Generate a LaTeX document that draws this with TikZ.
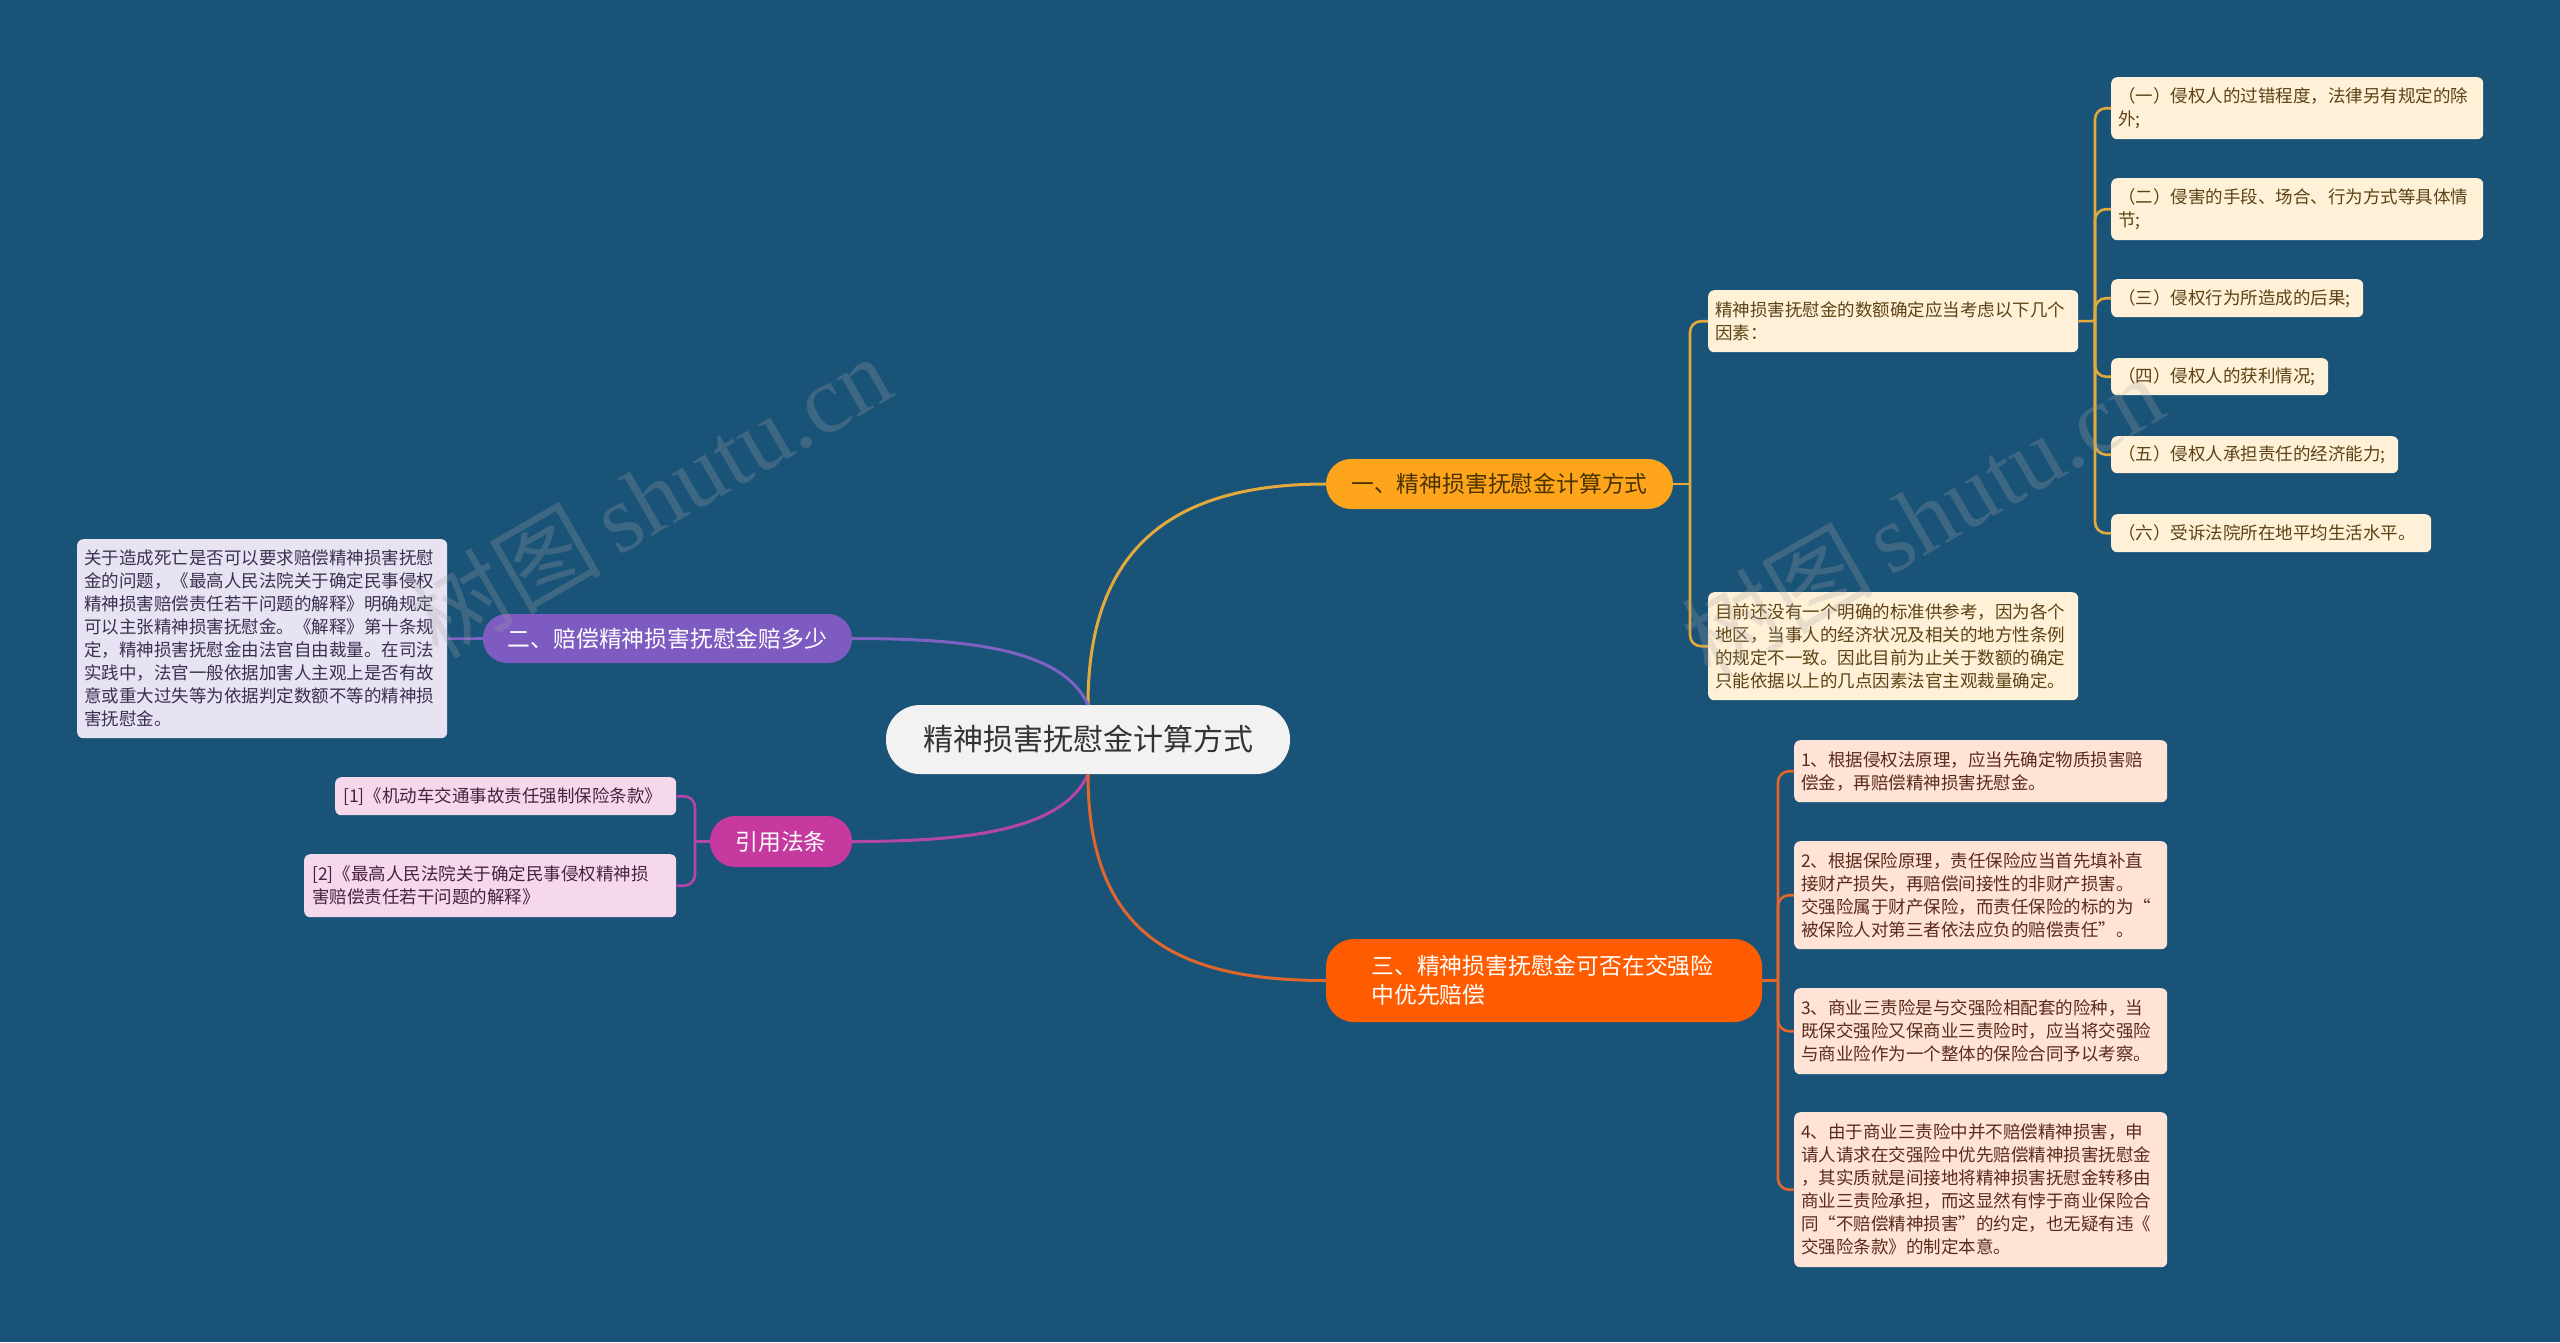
\documentclass[tikz,border=0pt]{standalone}
\usepackage{fontspec}
\setmainfont{Noto Sans CJK SC}
\newfontfamily\wmlatin{Liberation Serif}
\definecolor{bg}{HTML}{1A5378}
\definecolor{ctrfill}{HTML}{F2F2F2}
\definecolor{ctrtext}{HTML}{333333}
\definecolor{yfill}{HTML}{FFA51C}
\definecolor{ytext}{HTML}{4A3300}
\definecolor{yline}{HTML}{E2AA3C}
\definecolor{yleaf}{HTML}{FFF1D8}
\definecolor{yleaftext}{HTML}{5C4214}
\definecolor{ofill}{HTML}{FF5C00}
\definecolor{oline}{HTML}{E0662C}
\definecolor{oleaf}{HTML}{FFE3D7}
\definecolor{oleaftext}{HTML}{5A2A1A}
\definecolor{pfill}{HTML}{7E5BC1}
\definecolor{pline}{HTML}{7C62C2}
\definecolor{pleaf}{HTML}{E7E3F3}
\definecolor{pleaftext}{HTML}{3A3050}
\definecolor{mfill}{HTML}{C63AA0}
\definecolor{mline}{HTML}{B446A8}
\definecolor{mleaf}{HTML}{F5D8EC}
\definecolor{mleaftext}{HTML}{4A2040}
\tikzset{
  leafbox/.style={rounded corners=6pt, align=left, inner xsep=7pt, inner ysep=0pt,
    anchor=north west, font=\fontsize{17.5}{23}\selectfont},
  yleafbox/.style={leafbox, fill=yleaf, text=yleaftext},
  oleafbox/.style={leafbox, fill=oleaf, text=oleaftext},
  pleafbox/.style={leafbox, fill=pleaf, text=pleaftext},
  mleafbox/.style={leafbox, fill=mleaf, text=mleaftext},
  branchbox/.style={inner sep=0pt, font=\fontsize{22.8}{29}\selectfont},
  mainlink/.style={line width=3pt},
  leaflink/.style={line width=2.6pt, rounded corners=11pt},
  wm/.style={text=gray!70!white, opacity=0.25, font=\fontsize{96}{106}\selectfont, rotate=30}
}
\begin{document}
\begin{tikzpicture}[x=1pt,y=-1pt]
\useasboundingbox[fill=bg] (0,0) rectangle (2560,1342);

% central
\node[fill=ctrfill, text=ctrtext, rounded corners=34pt, minimum width=404pt, minimum height=69pt,
  inner sep=0pt, font=\fontsize{30}{36}\selectfont] (c) at (1088,739.5) {精神损害抚慰金计算方式};

% branches
\node[branchbox, fill=yfill, text=ytext, rounded corners=25pt, minimum width=347pt, minimum height=50pt]
  (b1) at (1499.5,484) {一、精神损害抚慰金计算方式};
\node[branchbox, fill=ofill, text=white, rounded corners=28pt, minimum height=83pt,
  text width=345pt, align=left, inner xsep=45.5pt, inner ysep=0pt]
  (b3) at (1544,980.5) {三、精神损害抚慰金可否在交强险\\中优先赔偿};
\node[branchbox, fill=pfill, text=white, rounded corners=24pt, minimum width=369pt, minimum height=49pt]
  (b2) at (667.5,638.5) {二、赔偿精神损害抚慰金赔多少};
\node[branchbox, fill=mfill, text=white, rounded corners=25pt, minimum width=142pt, minimum height=51pt]
  (b4) at (781,841.5) {引用法条};

% left leaf
\node[pleafbox, text width=356pt, minimum height=199pt] (l2) at (77,539) {关于造成死亡是否可以要求赔偿精神损害抚慰\\
金的问题，《最高人民法院关于确定民事侵权\\
精神损害赔偿责任若干问题的解释》明确规定\\
可以主张精神损害抚慰金。《解释》第十条规\\
定，精神损害抚慰金由法官自由裁量。在司法\\
实践中，法官一般依据加害人主观上是否有故\\
意或重大过失等为依据判定数额不等的精神损\\
害抚慰金。};

% references
\node[mleafbox, text width=325pt, minimum height=38pt, inner xsep=8pt] (r1) at (335,777) {[1]《机动车交通事故责任强制保险条款》};
\node[mleafbox, text width=356pt, minimum height=63pt, inner xsep=8pt] (r2) at (304,854) {[2]《最高人民法院关于确定民事侵权精神损\\害赔偿责任若干问题的解释》};

% branch 1 children
\node[yleafbox, text width=356pt, minimum height=62pt] (c11) at (1708,290) {精神损害抚慰金的数额确定应当考虑以下几个\\因素：};
\node[yleafbox, text width=356pt, minimum height=108pt] (c12) at (1708,592) {目前还没有一个明确的标准供参考，因为各个\\
地区，当事人的经济状况及相关的地方性条例\\
的规定不一致。因此目前为止关于数额的确定\\
只能依据以上的几点因素法官主观裁量确定。};

% grandchildren
\node[yleafbox, text width=358pt, minimum height=62pt] (g1) at (2111,77) {（一）侵权人的过错程度，法律另有规定的除\\外;};
\node[yleafbox, text width=358pt, minimum height=62pt] (g2) at (2111,178) {（二）侵害的手段、场合、行为方式等具体情\\节;};
\node[yleafbox, text width=238pt, minimum height=38pt] (g3) at (2111,279) {（三）侵权行为所造成的后果;};
\node[yleafbox, text width=203pt, minimum height=37pt] (g4) at (2111,358) {（四）侵权人的获利情况;};
\node[yleafbox, text width=273pt, minimum height=37pt] (g5) at (2111,436) {（五）侵权人承担责任的经济能力;};
\node[yleafbox, text width=306pt, minimum height=38pt] (g6) at (2111,514) {（六）受诉法院所在地平均生活水平。};

% branch 3 children
\node[oleafbox, text width=359pt, minimum height=62pt] (d1) at (1794,740) {1、根据侵权法原理，应当先确定物质损害赔\\偿金，再赔偿精神损害抚慰金。};
\node[oleafbox, text width=359pt, minimum height=108pt] (d2) at (1794,841) {2、根据保险原理，责任保险应当首先填补直\\
接财产损失，再赔偿间接性的非财产损害。\\
交强险属于财产保险，而责任保险的标的为“\\
被保险人对第三者依法应负的赔偿责任”。};
\node[oleafbox, text width=359pt, minimum height=86pt] (d3) at (1794,988) {3、商业三责险是与交强险相配套的险种，当\\
既保交强险又保商业三责险时，应当将交强险\\
与商业险作为一个整体的保险合同予以考察。};
\node[oleafbox, text width=359pt, minimum height=155pt] (d4) at (1794,1112) {4、由于商业三责险中并不赔偿精神损害，申\\
请人请求在交强险中优先赔偿精神损害抚慰金\\
，其实质就是间接地将精神损害抚慰金转移由\\
商业三责险承担，而这显然有悖于商业保险合\\
同“不赔偿精神损害”的约定，也无疑有违《\\
交强险条款》的制定本意。};

% junctions
\coordinate (j1) at (1690,484);
\coordinate (j11) at (2095,321);
\coordinate (j3) at (1778,980.5);
\coordinate (j4) at (695,841.5);

% main connectors
\draw[mainlink, yline] (c.north) .. controls +(0,-160) and +(-150,0) .. (b1.west);
\draw[mainlink, pline] (c.north) .. controls +(-25,-55) and +(120,0) .. (b2.east);
\draw[mainlink, mline] (c.south) .. controls +(-25,55) and +(120,0) .. (b4.east);
\draw[mainlink, oline] (c.south) .. controls +(0,160) and +(-150,0) .. (b3.west);

% branch 2 leaf
\draw[line width=2.6pt, pline] (b2.west) -- (l2.east);

% branch 1 subtree
\draw[line width=2.6pt, yline] (b1.east) -- (j1);
\draw[leaflink, yline] (j1) |- (c11.west);
\draw[leaflink, yline] (j1) |- (c12.west);
\draw[line width=2.6pt, yline] (c11.east) -- (j11);
\foreach \g in {g1,g2,g3,g4,g5,g6} {\draw[leaflink, yline] (j11) |- (\g.west);}

% branch 3 subtree
\draw[line width=2.6pt, oline] (b3.east) -- (j3);
\foreach \d in {d1,d2,d3,d4} {\draw[leaflink, oline] (j3) |- (\d.west);}

% branch 4 subtree
\draw[line width=2.6pt, mline] (b4.west) -- (j4);
\draw[leaflink, mline] (j4) |- (r1.east);
\draw[leaflink, mline] (j4) |- (r2.east);

% watermarks
\node[wm] (w1) at (650,496) {树图\,{\wmlatin shutu.cn}};
\node[wm] (w2) at (1922,516) {树图\,{\wmlatin shutu.cn}};
\end{tikzpicture}
\end{document}
